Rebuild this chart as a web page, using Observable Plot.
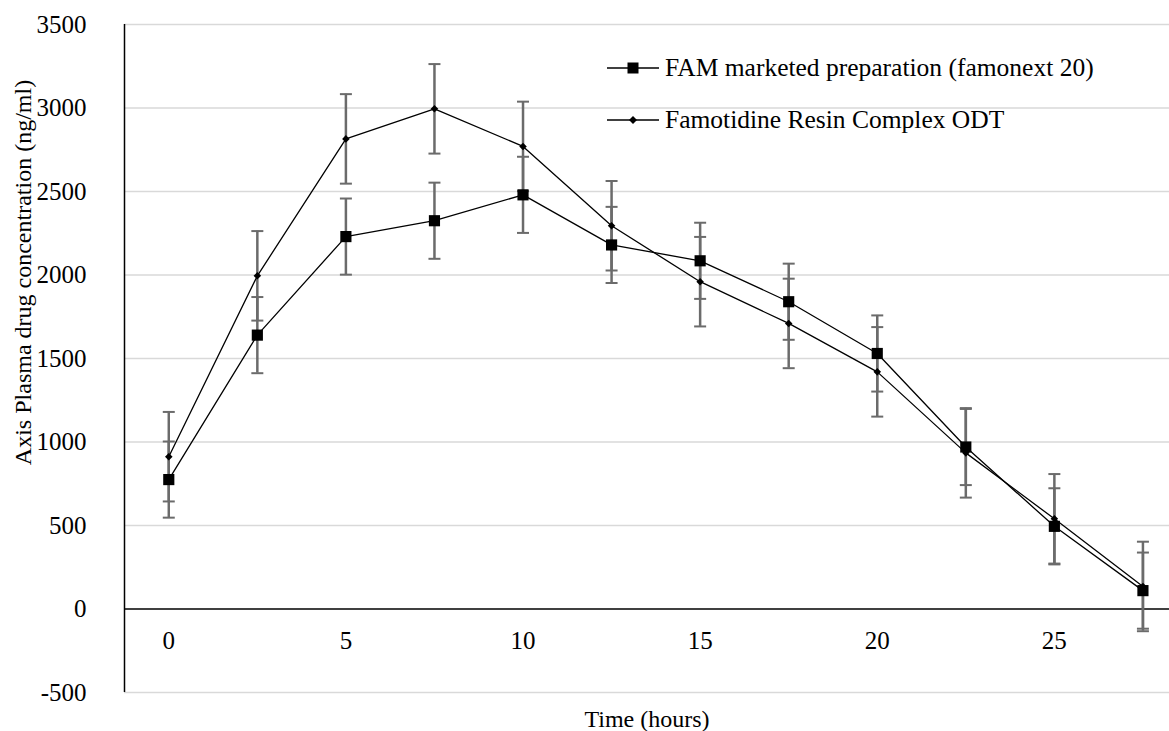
<!DOCTYPE html>
<html>
<head>
<meta charset="utf-8">
<script src="https://cdn.jsdelivr.net/npm/d3@7"></script>
<script src="https://cdn.jsdelivr.net/npm/@observablehq/plot@0.6"></script>
<style>
  html, body { margin: 0; padding: 0; background: #fff; }
  #wrap { position: relative; width: 1169px; height: 731px; font-family: "Liberation Serif", "Times New Roman", serif; }
  #legend { position: absolute; left: 607px; top: 52px; font-size: 25.5px; color: #000; }
  #legend .row { display: flex; align-items: center; height: 32px; margin-bottom: 20px; white-space: nowrap; }
  #legend svg { margin-right: 6px; }
</style>
</head>
<body>
<div id="wrap"><div id="chart"></div><div id="legend"></div></div>
<script>
const times = [0, 2.5, 5, 7.5, 10, 12.5, 15, 17.5, 20, 22.5, 25, 27.5];
const famMarketed = [775, 1640, 2230, 2325, 2480, 2180, 2085, 1840, 1530, 970, 495, 110];
const famMarketedErr = [228, 228, 228, 228, 228, 228, 228, 228, 228, 228, 228, 228];
const resinODT = [912, 1995, 2815, 2995, 2770, 2295, 1960, 1710, 1420, 935, 540, 135];
const resinODTErr = [268, 268, 268, 268, 268, 268, 268, 268, 268, 268, 268, 268];
const seriesNames = ["FAM marketed preparation (famonext 20)", "Famotidine Resin Complex ODT"];
const yTicks = [-500, 0, 500, 1000, 1500, 2000, 2500, 3000, 3500];
const xTickLabels = [0, 5, 10, 15, 20, 25];
const yTitle = "Axis Plasma drug concentration (ng/ml)";
const xTitle = "Time (hours)";

const rows = [];
times.forEach((t, i) => {
  rows.push({series: seriesNames[0], t, v: famMarketed[i], e: famMarketedErr[i]});
  rows.push({series: seriesNames[1], t, v: resinODT[i], e: resinODTErr[i]});
});
const famRows = rows.filter(d => d.series === seriesNames[0]);
const odtRows = rows.filter(d => d.series === seriesNames[1]);

const capSymbol = { draw(ctx, size) { ctx.moveTo(-6, 0); ctx.lineTo(6, 0); } };
const errColor = "#6b6b6b";

const chart = Plot.plot({
  width: 1169,
  height: 731,
  marginLeft: 124,
  marginRight: 0,
  marginTop: 24,
  marginBottom: 39,
  style: { fontFamily: "'Liberation Serif', 'Times New Roman', serif", fontSize: "25px", background: "#fff", color: "#000" },
  x: { domain: [-1.25, 28.25] },
  y: { domain: [-500, 3500] },
  marks: [
    Plot.ruleY(yTicks.filter(d => d !== 0), { stroke: "#d9d9d9", strokeWidth: 1.5 }),
    Plot.axisY(yTicks, { tickSize: 0, tickPadding: 38, fontSize: 25, tickFormat: d => String(d), label: null }),
    Plot.axisX({ ticks: [], label: xTitle, labelAnchor: "center", labelArrow: "none", labelOffset: 34, tickSize: 0, fontSize: 24 }),
    Plot.text([yTitle], { frameAnchor: "left", textAnchor: "middle", rotate: -90, dx: -101, dy: -86, fontSize: 24, fill: "#000", text: d => d }),
    Plot.ruleY([0], { stroke: "#000", strokeWidth: 1.3 }),
    Plot.ruleX([-1.25], { stroke: "#000", strokeWidth: 1.5 }),
    Plot.text(xTickLabels, { x: d => d, y: 0, text: d => String(d), dy: 32, fontSize: 25, fill: "#000" }),
    // error bars
    Plot.ruleX(rows, { x: "t", y1: d => d.v - d.e, y2: d => d.v + d.e, stroke: errColor, strokeWidth: 2.5 }),
    Plot.dot(rows, { x: "t", y: d => d.v - d.e, symbol: capSymbol, stroke: errColor, strokeWidth: 2, r: 4 }),
    Plot.dot(rows, { x: "t", y: d => d.v + d.e, symbol: capSymbol, stroke: errColor, strokeWidth: 2, r: 4 }),
    // lines
    Plot.line(famRows, { x: "t", y: "v", stroke: "#000", strokeWidth: 1.3 }),
    Plot.line(odtRows, { x: "t", y: "v", stroke: "#000", strokeWidth: 1.3 }),
    Plot.dot(famRows, { x: "t", y: "v", symbol: "square", r: 6.3, fill: "#000", stroke: "none" }),
    Plot.dot(odtRows, { x: "t", y: "v", symbol: "diamond2", r: 3.4, fill: "#000", stroke: "none" })
  ]
});
document.getElementById("chart").appendChild(chart);

const legend = document.getElementById("legend");
const glyphs = [
  `<svg width="52" height="14"><line x1="0" y1="7" x2="52" y2="7" stroke="#000" stroke-width="1.3"/><rect x="20.5" y="1.5" width="11" height="11" fill="#000"/></svg>`,
  `<svg width="52" height="14"><line x1="0" y1="7" x2="52" y2="7" stroke="#000" stroke-width="1.3"/><path d="M26,3 L30,7 L26,11 L22,7 Z" fill="#000"/></svg>`
];
seriesNames.forEach((name, i) => {
  const row = document.createElement("div");
  row.className = "row";
  row.innerHTML = glyphs[i] + `<span>${name}</span>`;
  legend.appendChild(row);
});
</script>
</body>
</html>
